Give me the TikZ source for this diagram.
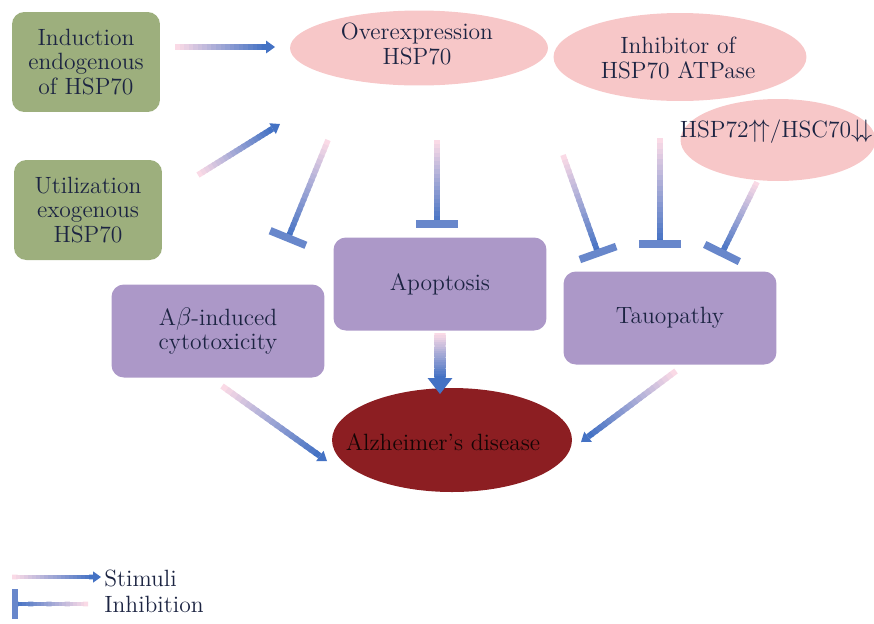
\documentclass[tikz,border=0pt]{standalone}
\usepackage{amsmath}
\usepackage{amssymb}
\usetikzlibrary{calc,shapes.geometric}

\definecolor{hblue}{RGB}{68,114,196}
\definecolor{hpink}{RGB}{250,218,230}
\definecolor{hgreen}{RGB}{157,175,125}
\definecolor{hpurple}{RGB}{172,152,200}
\definecolor{hrose}{RGB}{247,199,200}
\definecolor{hred}{RGB}{140,30,34}
\definecolor{htext}{RGB}{28,36,66}

\tikzset{
	txt/.style={text=htext,align=center,font=\fontsize{13.4}{13.8}\selectfont},
	greenbox/.style={txt,rectangle,rounded corners=7pt,fill=hgreen,minimum width=2.96cm,minimum height=2cm,inner sep=0pt},
	rosebox/.style={ellipse,fill=hrose,inner sep=0pt},
	purplebox/.style={txt,rectangle,rounded corners=7pt,fill=hpurple,minimum width=4.26cm,minimum height=1.86cm,inner sep=0pt},
	redbox/.style={ellipse,fill=hred,minimum width=4.8cm,minimum height=2.08cm,inner sep=0pt}
}

% gradient stimulus arrow: line width, head length, head half width, from, to
\newcommand{\stim}[5]{%
	\coordinate (tipbase) at ($(#5)!#2!(#4)$);
	\foreach \k in {0,...,19}{%
		\pgfmathtruncatemacro{\mix}{100*\k/19}%
		\pgfmathsetmacro{\ta}{\k/20}%
		\pgfmathsetmacro{\tb}{min(1,(\k+1.4)/20)}%
		\draw[line width=#1,hblue!\mix!hpink] ($(#4)!\ta!(tipbase)$) -- ($(#4)!\tb!(tipbase)$);
	}
	\fill[hblue] ($(tipbase)!#3!90:(#5)$) -- (#5) -- ($(tipbase)!#3!-90:(#5)$) -- cycle;
}
% gradient inhibition: line width, bar half length, from, to
\newcommand{\inhib}[4]{%
	\foreach \k in {0,...,19}{%
		\pgfmathtruncatemacro{\mix}{100*\k/19}%
		\pgfmathsetmacro{\ta}{\k/20}%
		\pgfmathsetmacro{\tb}{min(1,(\k+1.4)/20)}%
		\draw[line width=#1,hblue!\mix!hpink] ($(#3)!\ta!(#4)$) -- ($(#3)!\tb!(#4)$);
	}
	\draw[line width=1.35*#1,hblue!80!hpink] ($(#4)!#2!90:(#3)$) -- ($(#4)!#2!-90:(#3)$);
}

\begin{document}
\begin{tikzpicture}[x=0.02cm,y=-0.02cm]
	\useasboundingbox (0,0) rectangle (874,623);

	\node[greenbox] (induc) at (86,62) {Induction\\endogenous\\of HSP70};
	\node[greenbox] (util) at (88,210) {Utilization\\exogenous\\HSP70};
	\node[rosebox,minimum width=5.16cm,minimum height=1.5cm] (over) at (419,48) {};
	\node[txt] (overlab) at (417,44) {Overexpression\\HSP70};
	\node[rosebox,minimum width=5.06cm,minimum height=1.76cm] (inhat) at (680,57) {};
	\node[txt] (inhatlab) at (678,58) {Inhibitor of\\HSP70 ATPase};
	\node[rosebox,minimum width=3.9cm,minimum height=1.64cm] (hspell) at (778,140) {};
	\node[txt] (hsplab) at (776,132) {HSP72$\uparrow\!\uparrow$/HSC70$\downarrow\!\downarrow$};
	\node[purplebox] (apop) at (440,284) {Apoptosis};
	\node[purplebox] (abeta) at (218,331) {A$\beta$-induced\\cytotoxicity};
	\node[purplebox] (tau) at (670,318) {Tauopathy};
	\node[redbox] (alz) at (452,440) {};
	\node[txt,text=black!85!hred] (alzlab) at (443,442) {Alzheimer’s disease};

	\coordinate (s1a) at (175,47);  \coordinate (s1b) at (275,47);
	\coordinate (s2a) at (198,175); \coordinate (s2b) at (280,124);
	\coordinate (s3a) at (440,333); \coordinate (s3b) at (440,394);
	\coordinate (s4a) at (222,386); \coordinate (s4b) at (327,461);
	\coordinate (s5a) at (676,371); \coordinate (s5b) at (581,442);
	\stim{3.4pt}{5pt}{3.6pt}{s1a}{s1b}
	\stim{3.4pt}{5pt}{3.6pt}{s2a}{s2b}
	\stim{6.5pt}{9pt}{7pt}{s3a}{s3b}
	\stim{3.4pt}{5pt}{3.6pt}{s4a}{s4b}
	\stim{3.4pt}{5pt}{3.6pt}{s5a}{s5b}

	\coordinate (i1a) at (328,140); \coordinate (i1b) at (288,238);
	\coordinate (i2a) at (437,140); \coordinate (i2b) at (437,224);
	\coordinate (i3a) at (563,155); \coordinate (i3b) at (598,253);
	\coordinate (i4a) at (660,138); \coordinate (i4b) at (660,244);
	\coordinate (i5a) at (757,182); \coordinate (i5b) at (722,253);
	\inhib{3.2pt}{11pt}{i1a}{i1b}
	\inhib{3.2pt}{12pt}{i2a}{i2b}
	\inhib{3.2pt}{11pt}{i3a}{i3b}
	\inhib{3.2pt}{12pt}{i4a}{i4b}
	\inhib{3.2pt}{11pt}{i5a}{i5b}

	\coordinate (lsa) at (12,577);  \coordinate (lsb) at (101,577);
	\coordinate (lia) at (88,604);  \coordinate (lib) at (15,604);
	\stim{2.6pt}{4.5pt}{3.2pt}{lsa}{lsb}
	\inhib{2.6pt}{8.5pt}{lia}{lib}
	\node[txt,right,inner sep=0pt] (lstim) at (104,578) {Stimuli};
	\node[txt,right,inner sep=0pt] (linhib) at (104,604) {Inhibition};
\end{tikzpicture}
\end{document}
